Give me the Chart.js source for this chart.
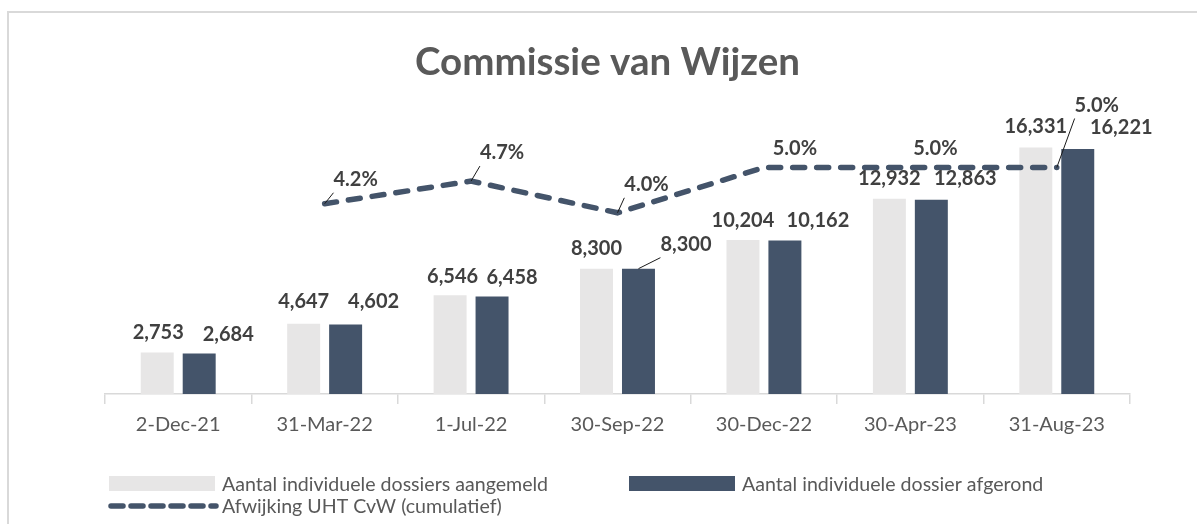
<!DOCTYPE html>
<html>
<head>
<meta charset="utf-8">
<script src="https://cdn.jsdelivr.net/npm/chart.js@4.4.1/dist/chart.umd.min.js"></script>
<style>
  html, body { margin: 0; padding: 0; background: #ffffff; overflow: hidden; width: 1197px; height: 524px; }
  #frame { position: absolute; left: 7px; top: 11px; width: 1400px; height: 700px;
           border-left: 2px solid #d9d9d9; border-top: 2px solid #d9d9d9; }
  #c { position: absolute; left: 0; top: 0; }
</style>
</head>
<body>
<div id="frame"></div>
<canvas id="c" width="1215" height="524"></canvas>
<script>
// ---- data ----
const categories = ['2-Dec-21', '31-Mar-22', '1-Jul-22', '30-Sep-22', '30-Dec-22', '30-Apr-23', '31-Aug-23'];
const aangemeld = [2753, 4647, 6546, 8300, 10204, 12932, 16331];
const afgerond = [2684, 4602, 6458, 8300, 10162, 12863, 16221];
const afwijking = [null, 4.2, 4.7, 4.0, 5.0, 5.0, 5.0];
const seriesNames = ['Aantal individuele dossiers aangemeld', 'Aantal individuele dossier afgerond', 'Afwijking UHT CvW (cumulatief)'];
const chartTitle = 'Commissie van Wijzen';

// ---- label placement (dx, dy from the mark, leader line flag) ----
const labelOffsets = [
  [[1, -20], [0, -23], [2.5, -19], [0, -21], [0, -20], [0, -21], [0, -21]],
  [[29, -19], [28, -24], [20, -19], [47.5, -25, true], [33, -21], [34, -21.5], [43.5, -22]],
  [null, [31, -25, true], [31, -29, true], [29, -29, true], [31, -20], [25, -20], [40, -63, true]]
];

const GRAY = '#e7e6e6';
const NAVY = '#44546a';
const FONT = 'Lato, "Open Sans", sans-serif';

const fmtNum = v => v.toLocaleString('en-US');
const fmtPct = v => v.toFixed(1) + '%';

const valueLabels = {
  id: 'valueLabels',
  afterDatasetsDraw(chart) {
    const ctx = chart.ctx;
    ctx.save();
    ctx.font = 'bold 20px ' + FONT;
    ctx.fillStyle = '#404040';
    ctx.textAlign = 'center';
    ctx.textBaseline = 'alphabetic';
    chart.data.datasets.forEach((ds, di) => {
      const meta = chart.getDatasetMeta(di);
      meta.data.forEach((el, i) => {
        const v = ds.data[i];
        const off = labelOffsets[di][i];
        if (v == null || !off) return;
        const text = di === 2 ? fmtPct(v) : fmtNum(v);
        const cx = el.x + off[0];
        const cy = el.y + off[1];
        ctx.fillText(text, cx, cy + 7);
        if (off[2]) {
          const w = ctx.measureText(text).width;
          ctx.save();
          ctx.strokeStyle = '#1a1a1a';
          ctx.lineWidth = 1;
          ctx.beginPath();
          ctx.moveTo(cx - w / 2, cy + 14);
          ctx.lineTo(el.x, el.y);
          ctx.stroke();
          ctx.restore();
        }
      });
    });
    ctx.restore();
  }
};

const customLegend = {
  id: 'customLegend',
  afterDraw(chart) {
    const ctx = chart.ctx;
    const x0 = chart.chartArea.left + 4;
    const row1 = 483.5, row2 = 506;
    const boxW = 106, boxH = 15;
    const ds = chart.data.datasets;
    ctx.save();
    ctx.font = '19.6px ' + FONT;
    ctx.fillStyle = '#595959';
    ctx.textAlign = 'left';
    ctx.textBaseline = 'middle';
    const items = [
      { x: x0, y: row1, ds: ds[0] },
      { x: x0 + 520, y: row1, ds: ds[1] }
    ];
    items.forEach(it => {
      ctx.fillStyle = it.ds.backgroundColor;
      ctx.fillRect(it.x, it.y - boxH / 2, boxW, boxH);
      ctx.fillStyle = '#595959';
      ctx.fillText(it.ds.label, it.x + boxW + 7, it.y + 1);
    });
    // line item
    ctx.save();
    ctx.strokeStyle = ds[2].borderColor;
    ctx.lineWidth = 5.5;
    ctx.lineCap = 'round';
    ctx.setLineDash([12, 8]);
    ctx.beginPath();
    ctx.moveTo(x0 + 2, row2);
    ctx.lineTo(x0 + 107, row2);
    ctx.stroke();
    ctx.restore();
    ctx.fillStyle = '#595959';
    ctx.fillText(ds[2].label, x0 + 113, row2 + 1);
    ctx.restore();
  }
};

new Chart(document.getElementById('c'), {
  type: 'bar',
  data: {
    labels: categories,
    datasets: [
      { type: 'bar', label: seriesNames[0], data: aangemeld, backgroundColor: GRAY, yAxisID: 'y', order: 1,
        categoryPercentage: 0.573, barPercentage: 0.786 },
      { type: 'bar', label: seriesNames[1], data: afgerond, backgroundColor: NAVY, yAxisID: 'y', order: 1,
        categoryPercentage: 0.573, barPercentage: 0.786 },
      { type: 'line', label: seriesNames[2], data: afwijking, borderColor: NAVY, backgroundColor: NAVY,
        borderWidth: 5.5, borderDash: [12, 12], borderCapStyle: 'round', pointRadius: 0, tension: 0,
        fill: false, yAxisID: 'y1', order: 0 }
    ]
  },
  options: {
    responsive: false,
    animation: false,
    layout: { padding: { left: 0, right: 0, top: 0, bottom: 78 } },
    plugins: {
      legend: { display: false },
      tooltip: { enabled: false },
      title: {
        display: true,
        text: chartTitle,
        color: '#595959',
        font: { family: FONT, size: 38.5, weight: 'bold', lineHeight: 1.2 },
        padding: { top: 39, bottom: 37 }
      }
    },
    scales: {
      x: {
        offset: true,
        grid: { display: true, offset: true, drawOnChartArea: false, drawTicks: true, tickLength: 10,
                color: '#d9d9d9', lineWidth: 1.5 },
        border: { display: true, color: '#d9d9d9', width: 1.5 },
        ticks: { color: '#595959', font: { family: FONT, size: 20 }, padding: 9, maxRotation: 0, autoSkip: false }
      },
      y: {
        position: 'left', min: 0, max: 18000,
        grid: { display: false }, border: { display: false }, ticks: { display: false },
        afterFit(s) { s.width = 105; }
      },
      y1: {
        position: 'right', min: 0, max: 6,
        grid: { display: false }, border: { display: false }, ticks: { display: false },
        afterFit(s) { s.width = 85; }
      }
    }
  },
  plugins: [valueLabels, customLegend]
});
</script>
</body>
</html>
